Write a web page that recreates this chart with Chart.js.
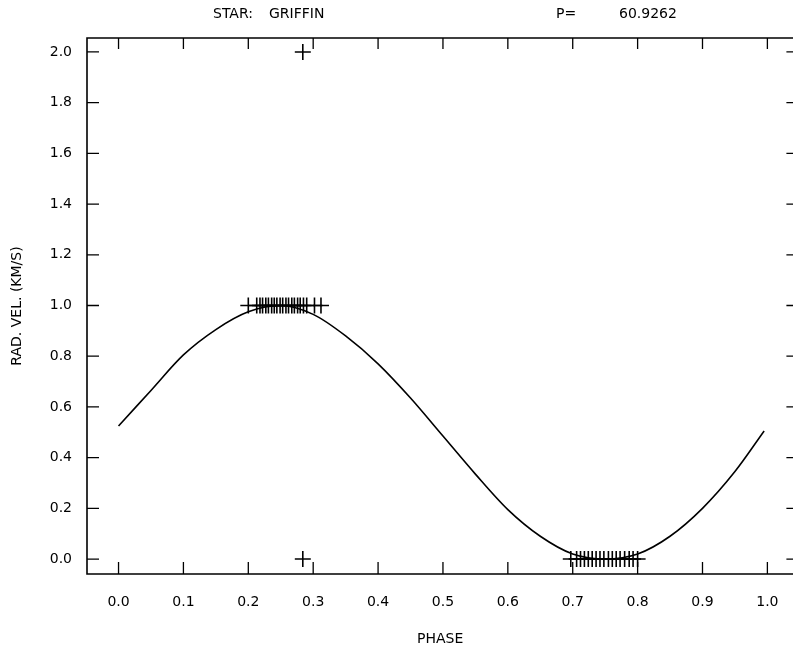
<!DOCTYPE html>
<html>
<head>
<meta charset="utf-8">
<script src="https://cdn.jsdelivr.net/npm/chart.js@4"></script>
<style>
  html, body { margin: 0; padding: 0; background: #fff; overflow: hidden; }
  #wrap { width: 793px; height: 654px; overflow: hidden; }
</style>
</head>
<body>
<div id="wrap"><canvas id="rv-curve" width="803" height="654"></canvas></div>
<script>
var phaseTicks = [0.0, 0.1, 0.2, 0.3, 0.4, 0.5, 0.6, 0.7, 0.8, 0.9, 1.0];
var velocityTicks = [0.0, 0.2, 0.4, 0.6, 0.8, 1.0, 1.2, 1.4, 1.6, 1.8, 2.0];

// fitted orbit curve
var curvePhase = [0.00, 0.05, 0.10, 0.15, 0.20, 0.25, 0.30, 0.35, 0.40, 0.45, 0.50,
                  0.55, 0.60, 0.65, 0.70, 0.75, 0.80, 0.85, 0.90, 0.95, 0.995];
var curveVelocity = [0.525, 0.665, 0.805, 0.905, 0.975, 1.0, 0.965, 0.88, 0.77, 0.635, 0.485,
                     0.335, 0.195, 0.09, 0.02, 0.0, 0.02, 0.09, 0.2, 0.345, 0.505];

// observations
var obsPhase = [0.200, 0.213, 0.218, 0.222, 0.227, 0.231, 0.236, 0.240, 0.244, 0.249, 0.253,
                0.258, 0.262, 0.267, 0.271, 0.276, 0.280, 0.285, 0.290, 0.302, 0.312,
                0.697, 0.706, 0.712, 0.718, 0.724, 0.730, 0.736, 0.742, 0.748, 0.755,
                0.761, 0.767, 0.773, 0.780, 0.787, 0.793, 0.800,
                0.284, 0.284];
var obsVelocity = [1, 1, 1, 1, 1, 1, 1, 1, 1, 1, 1,
                   1, 1, 1, 1, 1, 1, 1, 1, 1, 1,
                   0, 0, 0, 0, 0, 0, 0, 0, 0, 0,
                   0, 0, 0, 0, 0, 0, 0,
                   2.0, 0.0];

var plotFont = { family: 'DejaVu Sans', size: 14 };
var ink = '#000';

var curvePoints = curvePhase.map(function (p, i) { return { x: p, y: curveVelocity[i] }; });
var obsPoints = obsPhase.map(function (p, i) { return { x: p, y: obsVelocity[i] }; });

// open frame (right edge runs off the page) with inward ticks, plus the header line
var frameTicks = {
    id: 'frameTicks',
    afterDraw: function (chart) {
        var ctx = chart.ctx;
        var a = chart.chartArea;
        var xs = chart.scales.x, ys = chart.scales.y;
        ctx.save();
        ctx.strokeStyle = ink;
        ctx.lineWidth = 1.6;
        ctx.beginPath();
        ctx.moveTo(a.right + 5, a.top);
        ctx.lineTo(a.left, a.top);
        ctx.lineTo(a.left, a.bottom);
        ctx.lineTo(a.right + 5, a.bottom);
        ctx.stroke();
        ctx.lineWidth = 1.3;
        ctx.beginPath();
        xs.ticks.forEach(function (t) {
            var px = xs.getPixelForValue(t.value);
            ctx.moveTo(px, a.bottom); ctx.lineTo(px, a.bottom - 12);
            ctx.moveTo(px, a.top); ctx.lineTo(px, a.top + 11);
        });
        ys.ticks.forEach(function (t) {
            var py = ys.getPixelForValue(t.value);
            ctx.moveTo(a.left, py); ctx.lineTo(a.left + 12, py);
            ctx.moveTo(a.right + 2, py); ctx.lineTo(a.right - 7, py);
        });
        ctx.stroke();

        ctx.fillStyle = ink;
        ctx.font = '14px "DejaVu Sans"';
        ctx.textBaseline = 'middle';
        ctx.textAlign = 'left';
        ctx.fillText('STAR:', 213, 14);
        ctx.fillText('GRIFFIN', 269, 14);
        ctx.fillText('P=', 556, 14);
        ctx.fillText('60.9262', 619, 14);
        ctx.restore();
    }
};

var ctx = document.getElementById('rv-curve').getContext('2d');
var rvChart = new Chart(ctx, {
    type: 'scatter',
    data: {
        datasets: [
            {
                label: 'Orbit',
                data: curvePoints,
                showLine: true,
                borderColor: ink,
                borderWidth: 1.6,
                pointRadius: 0,
                cubicInterpolationMode: 'monotone',
                fill: false
            },
            {
                label: 'Observed',
                data: obsPoints,
                showLine: false,
                pointStyle: 'cross',
                pointRadius: 8,
                pointBorderWidth: 1.6,
                pointBorderColor: ink,
                pointBackgroundColor: ink
            }
        ]
    },
    options: {
        responsive: false,
        animation: false,
        layout: { padding: { top: 38, left: 0, right: 0, bottom: 0 } },
        plugins: {
            legend: { display: false },
            tooltip: { enabled: false }
        },
        scales: {
            x: {
                type: 'linear',
                min: -0.0486,
                max: 1.0401,
                afterBuildTicks: function (s) { s.ticks = phaseTicks.map(function (v) { return { value: v }; }); },
                afterFit: function (s) { s.height = 80; },
                grid: { display: false, drawTicks: false },
                border: { display: false },
                ticks: {
                    color: ink,
                    font: plotFont,
                    padding: 20,
                    maxRotation: 0,
                    callback: function (v) { return v.toFixed(1); }
                },
                title: {
                    display: true,
                    text: 'PHASE',
                    color: ink,
                    font: plotFont,
                    padding: { top: 0, bottom: 6 }
                }
            },
            y: {
                type: 'linear',
                min: -0.059,
                max: 2.055,
                afterBuildTicks: function (s) { s.ticks = velocityTicks.map(function (v) { return { value: v }; }); },
                afterFit: function (s) { s.width = 87; },
                grid: { display: false, drawTicks: false },
                border: { display: false },
                ticks: {
                    color: ink,
                    font: plotFont,
                    padding: 15,
                    callback: function (v) { return v.toFixed(1); }
                },
                title: {
                    display: true,
                    text: 'RAD. VEL. (KM/S)',
                    color: ink,
                    font: plotFont,
                    padding: { top: 9, bottom: 0 }
                }
            }
        }
    },
    plugins: [frameTicks]
});
</script>
</body>
</html>
